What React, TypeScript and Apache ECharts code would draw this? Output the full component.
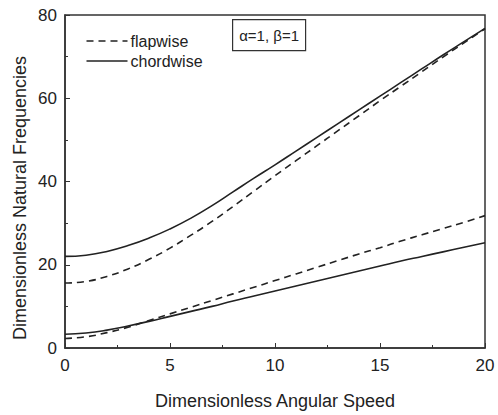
import React, { useEffect, useRef } from "react";
import * as echarts from "echarts";

const speeds = [0, 1, 2, 3, 4, 5, 6, 7, 8, 9, 10, 11, 12, 13, 14, 15, 16, 17, 18, 19, 20];
const chordwiseUpper = [22.0, 22.3, 23.2, 24.6, 26.4, 28.6, 31.2, 34.2, 37.5, 40.8, 44.0, 47.3, 50.6, 53.9, 57.2, 60.5, 63.8, 67.1, 70.4, 73.6, 76.8];
const flapwiseUpper = [15.6, 16.0, 17.2, 19.0, 21.3, 24.0, 27.1, 30.4, 34.0, 37.7, 41.4, 45.0, 48.6, 52.2, 55.8, 59.4, 62.9, 66.4, 69.9, 73.3, 76.7];
const chordwiseLower = [3.3, 3.6, 4.3, 5.3, 6.4, 7.6, 8.8, 10.0, 11.3, 12.5, 13.7, 14.9, 16.1, 17.3, 18.5, 19.7, 20.9, 22.0, 23.1, 24.2, 25.3];
const flapwiseLower = [2.3, 2.7, 3.7, 5.0, 6.6, 8.2, 9.8, 11.4, 13.0, 14.6, 16.2, 17.8, 19.4, 21.0, 22.6, 24.1, 25.7, 27.2, 28.7, 30.2, 31.8];
const legendNames = ["flapwise", "chordwise"];
const annotation = "α=1, β=1";
const xName = "Dimensionless Angular Speed";
const yName = "Dimensionless Natural Frequencies";

const FONT = "'Liberation Sans', Arial, sans-serif";
const INK = "#222";
const DASH = [7, 5];

function pairs(ys: number[]) {
  return speeds.map((x, i) => [x, ys[i]]);
}

export default function App() {
  const ref = useRef<HTMLDivElement>(null);
  useEffect(() => {
    if (!ref.current) return;
    const chart = echarts.init(ref.current, null, { renderer: "svg" });
    const solid = { color: INK, width: 1.6, type: "solid" as const };
    const dashed = { color: INK, width: 1.6, type: DASH as any };
    const mk = (name: string, ys: number[], ls: any) => ({
      name,
      type: "line",
      data: pairs(ys),
      smooth: true,
      symbol: "none",
      lineStyle: ls,
      itemStyle: { color: INK },
    });
    const legendItems = legendNames.map((n, i) => ({
      type: "group",
      left: 84,
      top: 33 + i * 20,
      children: [
        {
          type: "line",
          shape: { x1: 0, y1: 8, x2: 41, y2: 8 },
          style: { stroke: INK, lineWidth: 1.6, lineDash: i === 0 ? DASH : null },
        },
        {
          type: "text",
          x: 44,
          y: 8,
          style: { text: n, fontFamily: FONT, fontSize: 16, fill: INK, verticalAlign: "middle" },
        },
      ],
    }));
    chart.setOption({
      animation: false,
      backgroundColor: "#fff",
      grid: {
        left: 65,
        right: 13,
        top: 15,
        bottom: 61,
        show: true,
        borderColor: "#333",
        borderWidth: 1.5,
      },
      xAxis: {
        type: "value",
        min: 0,
        max: 20,
        interval: 5,
        name: xName,
        nameLocation: "middle",
        nameGap: 44,
        nameTextStyle: { fontFamily: FONT, fontSize: 18, color: INK },
        axisLine: { lineStyle: { color: "#333", width: 1.5 } },
        axisTick: { inside: true, length: 5, lineStyle: { color: "#333" } },
        minorTick: { show: true, splitNumber: 2, length: 3, lineStyle: { color: "#333" } },
        axisLabel: { fontFamily: FONT, fontSize: 17, color: INK, margin: 9 },
        splitLine: { show: false },
      },
      yAxis: {
        type: "value",
        min: 0,
        max: 80,
        interval: 20,
        axisLine: { lineStyle: { color: "#333", width: 1.5 } },
        axisTick: { inside: true, length: 5, lineStyle: { color: "#333" } },
        minorTick: { show: true, splitNumber: 2, length: 3, lineStyle: { color: "#333" } },
        axisLabel: { fontFamily: FONT, fontSize: 17, color: INK, margin: 8 },
        splitLine: { show: false },
      },
      series: [
        mk("chordwise", chordwiseUpper, solid),
        mk("flapwise", flapwiseUpper, dashed),
        mk("chordwise", chordwiseLower, solid),
        mk("flapwise", flapwiseLower, dashed),
      ],
      graphic: [
        ...legendItems,
        {
          type: "text",
          x: 20,
          y: 198,
          rotation: Math.PI / 2,
          style: {
            text: yName,
            fontFamily: FONT,
            fontSize: 18,
            fill: INK,
            align: "center",
            verticalAlign: "middle",
          },
        },
        {
          type: "group",
          left: 232,
          top: 19,
          children: [
            {
              type: "rect",
              shape: { x: 0, y: 0, width: 73, height: 31 },
              style: { fill: "#fff", stroke: "#333", lineWidth: 1.2 },
            },
            {
              type: "text",
              x: 36.5,
              y: 15.5,
              style: {
                text: annotation,
                fontFamily: FONT,
                fontSize: 15,
                fill: INK,
                align: "center",
                verticalAlign: "middle",
              },
            },
          ],
        },
      ],
    });
    return () => chart.dispose();
  }, []);
  return (
    <div
      ref={ref}
      style={{ position: "fixed", left: 0, top: 0, width: 498, height: 415, background: "#fff" }}
    />
  );
}
